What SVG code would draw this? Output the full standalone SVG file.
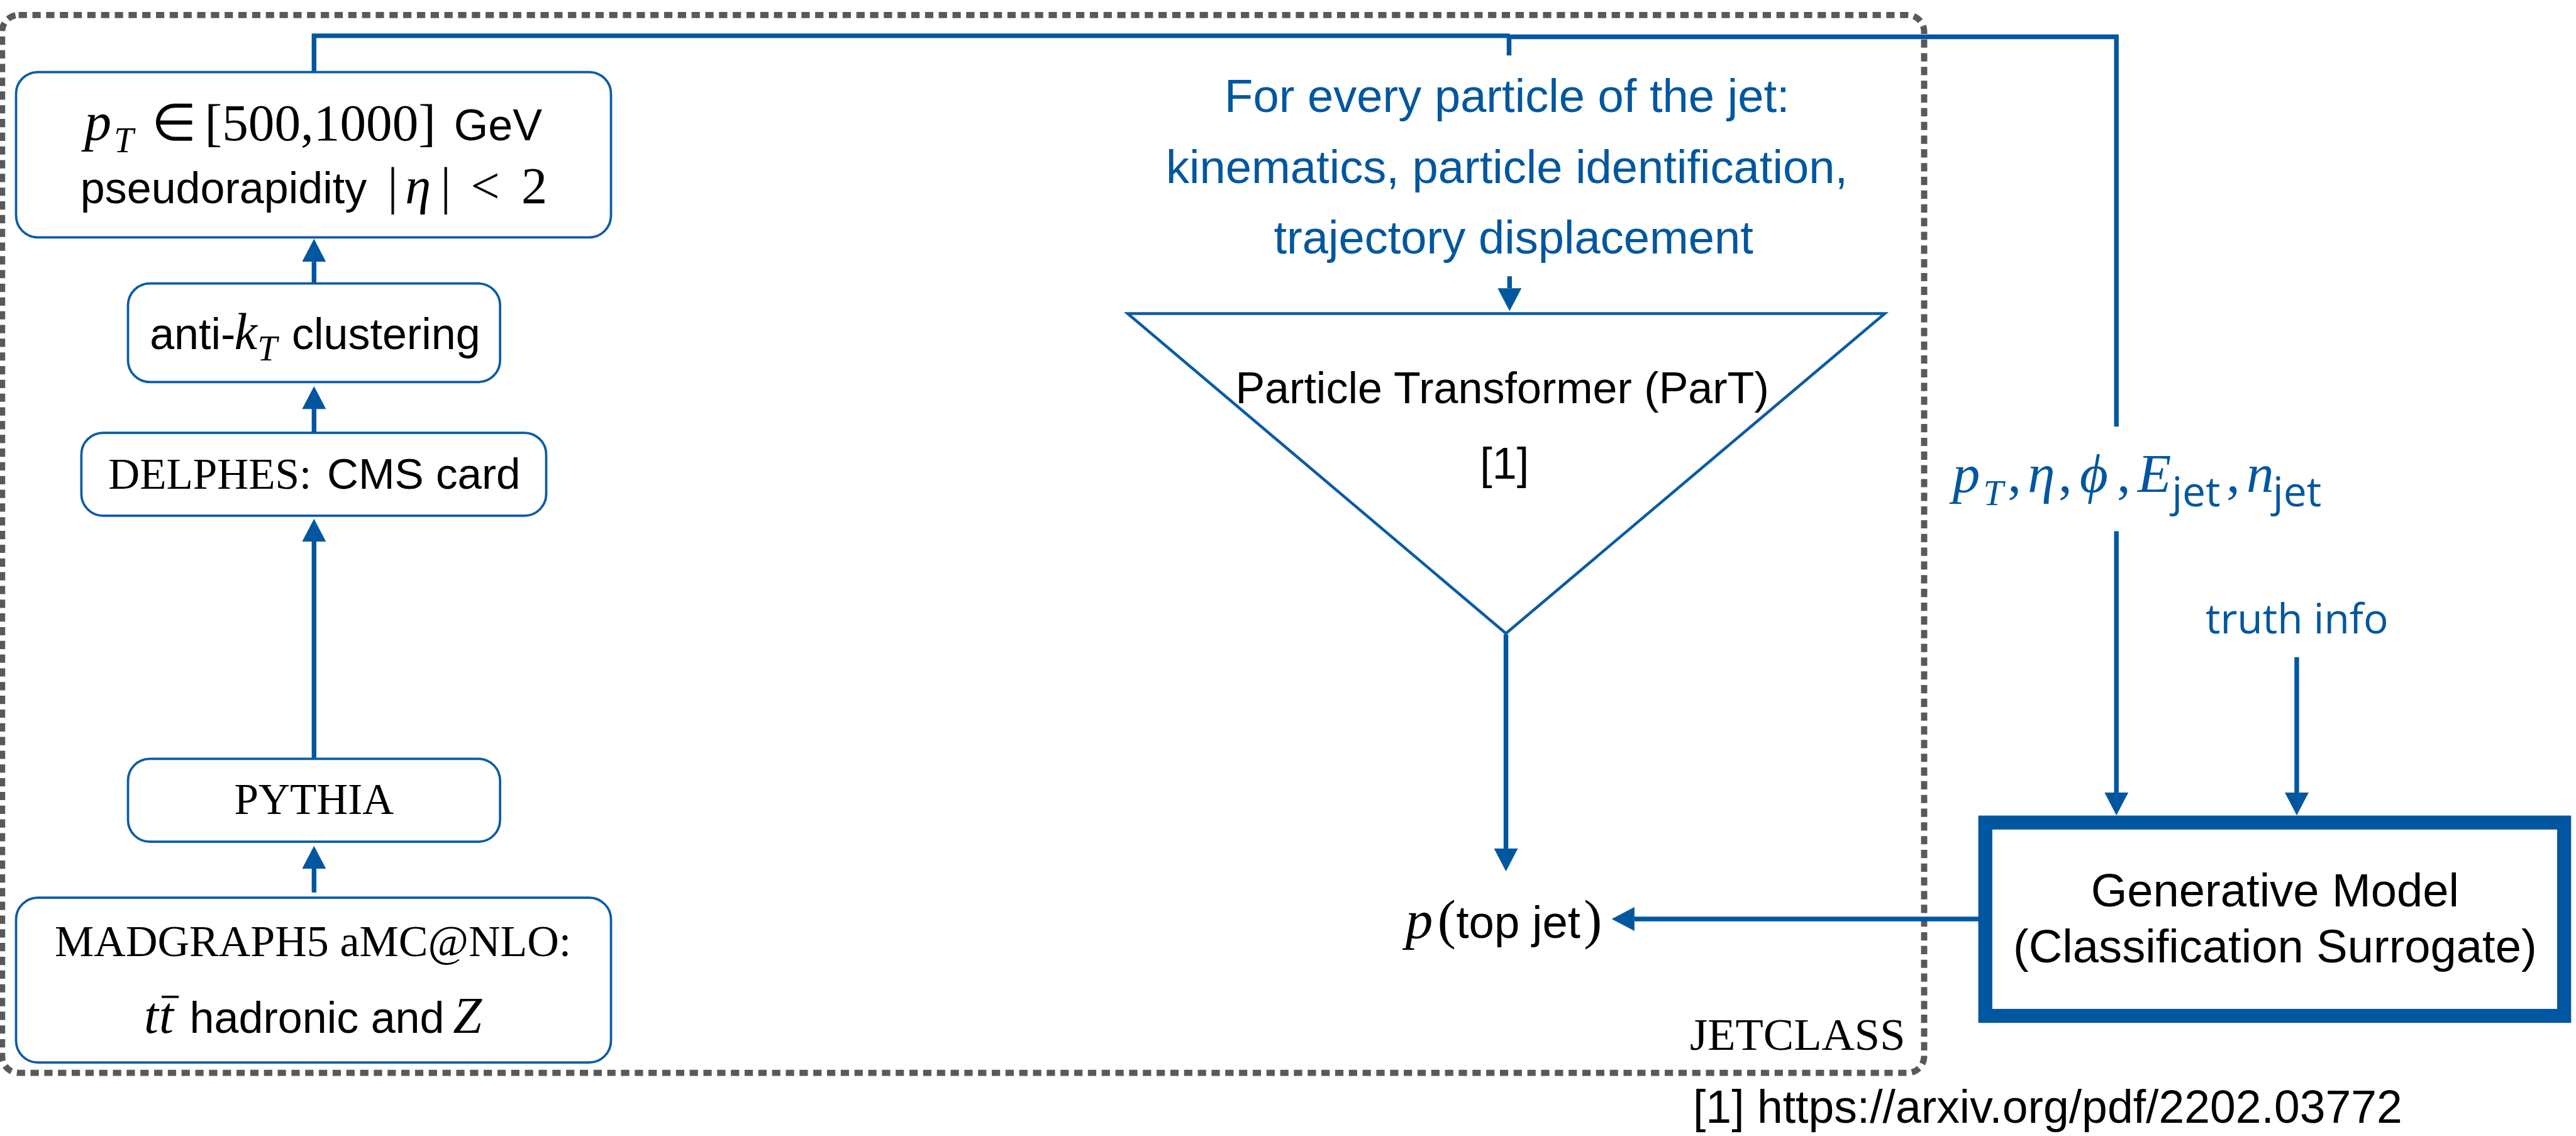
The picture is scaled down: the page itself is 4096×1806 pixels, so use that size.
<svg xmlns="http://www.w3.org/2000/svg" width="4096" height="1806" viewBox="0 0 4096 1806">
  <defs>
    <style>
      .sans { font-family: "Liberation Sans", Arial, sans-serif; }
      .serif { font-family: "Liberation Serif", "Times New Roman", serif; }
      .math { font-family: "Liberation Serif", "DejaVu Serif", serif; font-style: italic; }
      .up { font-style: normal; }
      .ui { font-family: "Open Sans", "Noto Sans", sans-serif; font-style: normal; }
      .ink { fill: #000000; }
      .blue { fill: #0057a0; }
      .box { fill: #ffffff; stroke: #0a5ca4; stroke-width: 4.5; }
      .wire { fill: none; stroke: #0057a0; stroke-width: 9; stroke-linejoin: miter; }
      .arrow { marker-end: url(#head); }
    </style>
    <marker id="head" markerUnits="userSpaceOnUse" markerWidth="44" markerHeight="46" viewBox="0 0 44 46" refX="0" refY="23" orient="auto" overflow="visible">
      <path d="M0,0 L44,23 L0,46 Z" fill="#0057a0"/>
    </marker>
  </defs>

  <rect x="0" y="0" width="4096" height="1806" fill="#ffffff"/>

  <g transform="scale(0.824)">
    <!-- JETCLASS dataset frame -->
    <g id="jetclass-frame">
      <rect x="4" y="29" width="3709" height="2041" rx="32" ry="32" fill="none" stroke="#595959" stroke-width="12" stroke-dasharray="16 10.5"/>
      <text class="serif ink" x="3261" y="2026" font-size="88">JETCLASS</text>
    </g>

    <!-- connectors -->
    <g id="connectors">
      <path class="wire" d="M606,139 V69 H2913"/>
      <path class="wire" d="M2908,71 H4084 V823"/>
      <path class="wire" d="M2912,69 V107" stroke-width="8"/>
      <path class="wire arrow" d="M606,546 V505"/>
      <path class="wire arrow" d="M606,834 V789"/>
      <path class="wire arrow" d="M606,1463 V1045"/>
      <path class="wire arrow" d="M606,1722 V1676"/>
      <path class="wire arrow" d="M2913,533 V556"/>
      <path class="wire arrow" d="M2906,1224 V1637"/>
      <path class="wire arrow" d="M3818,1773 H3154"/>
      <path class="wire arrow" d="M4084,1025 V1529"/>
      <path class="wire arrow" d="M4432,1268 V1529"/>
    </g>

    <!-- kinematic cuts -->
    <g id="node-cuts">
      <rect class="box" x="31" y="139" width="1148" height="319" rx="42" ry="42"/>
      <text class="ink" y="269">
        <tspan class="math" x="163" font-size="104">p</tspan>
        <tspan class="math" x="220" y="294" font-size="68">T</tspan>
        <tspan class="serif" x="293" y="271" font-size="100">∈</tspan>
        <tspan class="serif" x="395" y="271" font-size="101">[500,1000]</tspan>
        <tspan class="sans" x="876" y="271" font-size="85">GeV</tspan>
      </text>
      <text class="ink" y="392">
        <tspan class="sans" x="155" font-size="85">pseudorapidity</tspan>
        <tspan class="serif" x="748" font-size="100">|</tspan>
        <tspan class="math" x="782" font-size="100">η</tspan>
        <tspan class="serif" x="850" font-size="100">|</tspan>
        <tspan class="serif" x="908" font-size="100">&lt;</tspan>
        <tspan class="serif" x="1006" font-size="100">2</tspan>
      </text>
    </g>

    <!-- jet clustering -->
    <g id="node-antikt">
      <rect class="box" x="247" y="547" width="718" height="190" rx="42" ry="42"/>
      <text class="ink" y="673">
        <tspan class="sans" x="289" font-size="85">anti-</tspan>
        <tspan class="math" x="452" font-size="100">k</tspan>
        <tspan class="math" x="497" y="695" font-size="68">T</tspan>
        <tspan class="sans" x="563" y="673" font-size="85">clustering</tspan>
      </text>
    </g>

    <!-- detector simulation -->
    <g id="node-delphes">
      <rect class="box" x="157" y="835" width="897" height="160" rx="42" ry="42"/>
      <text class="ink" y="943">
        <tspan class="serif" x="209" font-size="84">DELPHES:</tspan>
        <tspan class="sans" x="631" font-size="84">CMS card</tspan>
      </text>
    </g>

    <!-- parton shower -->
    <g id="node-pythia">
      <rect class="box" x="247" y="1464" width="718" height="160" rx="42" ry="42"/>
      <text class="serif ink" x="606" y="1570" font-size="84" text-anchor="middle">PYTHIA</text>
    </g>

    <!-- event generation -->
    <g id="node-madgraph">
      <rect class="box" x="31" y="1732" width="1148" height="318" rx="42" ry="42"/>
      <text class="serif ink" x="604" y="1845" font-size="85" text-anchor="middle">MADGRAPH5 aMC@NLO:</text>
      <text class="ink" y="1993">
        <tspan class="math" x="278" font-size="100">t</tspan>
        <tspan class="math" x="307" font-size="100">t</tspan>
        <tspan class="sans" x="366" font-size="85">hadronic and</tspan>
        <tspan class="math" x="874" font-size="100">Z</tspan>
      </text>
      <!-- bar over the antiquark t -->
      <rect x="312" y="1921" width="33" height="4.5" fill="#000000"/>
    </g>

    <!-- per-particle inputs -->
    <g id="node-inputs">
      <text class="sans blue" font-size="90">
        <tspan x="2363" y="216">For every particle of the jet:</tspan>
        <tspan x="2250" y="353">kinematics, particle identification,</tspan>
        <tspan x="2458" y="489">trajectory displacement</tspan>
      </text>
    </g>

    <!-- classifier -->
    <g id="node-part">
      <polygon points="2176,605 3637,605 2906,1222" fill="#ffffff" stroke="#0a5ca4" stroke-width="5.5" stroke-linejoin="miter"/>
      <text class="sans ink" x="2384" y="778" font-size="85">Particle Transformer (ParT)</text>
      <text class="sans ink" x="2856" y="923" font-size="85">[1]</text>
    </g>

    <!-- classifier output -->
    <g id="node-output">
      <text class="ink" y="1809">
        <tspan class="math" x="2712" font-size="106">p</tspan>
        <tspan class="serif" x="2774" font-size="106">(</tspan>
        <tspan class="sans" x="2810" font-size="88">top jet</tspan>
        <tspan class="serif" x="3056" font-size="106">)</tspan>
      </text>
    </g>

    <!-- jet-level variables -->
    <g id="node-jetvars">
      <text class="math blue" y="949" font-size="106">
        <tspan x="3768">p</tspan>
        <tspan x="3827" y="975" font-size="70">T</tspan>
        <tspan class="up" x="3874" y="949">,</tspan>
        <tspan x="3913">η</tspan>
        <tspan class="up" x="3972">,</tspan>
        <tspan x="4013">ϕ</tspan>
        <tspan class="up" x="4085">,</tspan>
        <tspan x="4125">E</tspan>
        <tspan class="ui" x="4191" y="977" font-size="80">jet</tspan>
        <tspan class="up" x="4296" y="949">,</tspan>
        <tspan x="4335">n</tspan>
        <tspan class="ui" x="4386" y="977" font-size="80">jet</tspan>
      </text>
    </g>

    <!-- truth information -->
    <g id="node-truth">
      <text class="ui blue" x="4256" y="1222" font-size="80">truth info</text>
    </g>

    <!-- surrogate model -->
    <g id="node-generative">
      <rect x="3831" y="1587" width="1117" height="373" fill="#ffffff" stroke="#0057a0" stroke-width="27"/>
      <text class="sans ink" x="4390" y="1749" font-size="90" text-anchor="middle">Generative Model</text>
      <text class="sans ink" x="4390" y="1857" font-size="90" text-anchor="middle">(Classification Surrogate)</text>
    </g>

    <!-- reference -->
    <g id="footnote">
      <text class="sans ink" x="3267" y="2166" font-size="89">[1] https://arxiv.org/pdf/2202.03772</text>
    </g>
  </g>
</svg>
